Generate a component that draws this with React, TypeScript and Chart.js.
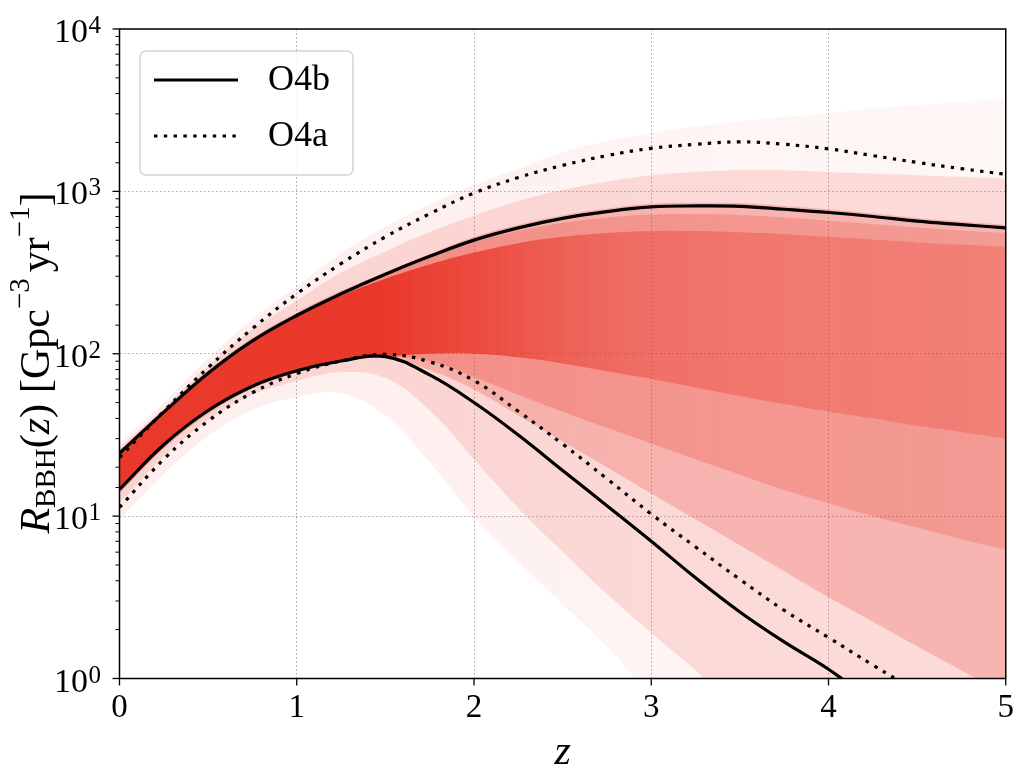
import React, { useEffect, useRef } from "react";
import { Chart, registerables } from "chart.js";

Chart.register(...registerables);

// ---------- data ----------
const zGrid = [0, 0.25, 0.5, 0.75, 1, 1.25, 1.5, 1.75, 2, 2.25, 2.5, 2.75, 3, 3.25, 3.5, 3.75, 4, 4.25, 4.5, 4.75, 5];

// 90% bounds, O4b (solid) and O4a (dotted)
const o4bUpper = [24.4, 43.7, 75.9, 120, 172, 234, 309, 398, 501, 596, 682, 750, 802, 813, 809, 776, 741, 700, 655, 624, 596];
const o4aUpper = [22.9, 44.2, 82.2, 143, 234, 359, 525, 728, 977, 1216, 1445, 1660, 1841, 1950, 2018, 1950, 1828, 1660, 1507, 1380, 1274];
const o4bLower = [14.6, 27.5, 44.7, 63.1, 78.5, 90.2, 96.0, 74.1, 50.1, 31.6, 19.1, 11.6, 7.01, 4.17, 2.57, 1.68, 1.14, 0.72];
const o4aLower = [11.3, 22.4, 38.5, 57.5, 75.5, 90.2, 99.1, 89.1, 68.4, 44.2, 27.8, 17.0, 10.3, 6.46, 4.08, 2.63, 1.79, 1.21, 0.83];

// density of the posterior draws (nested envelopes, outer -> core)
const fanOuterUpper = [28.2, 50.1, 94, 163, 260, 417, 603, 832, 1096, 1380, 1738, 2042, 2291, 2512, 2692, 2884, 3020, 3236, 3388, 3548, 3715];
const fanOuterLower = [9.55, 18.2, 31, 45, 54, 57, 41.7, 21.4, 10.0, 5.25, 2.88, 1.58, 0.79, 0.5, 0.5, 0.5, 0.5, 0.5, 0.5, 0.5, 0.5];
const fanMidUpper = [26.3, 46.5, 84, 141, 212, 316, 427, 562, 708, 871, 1023, 1148, 1259, 1318, 1349, 1349, 1318, 1288, 1259, 1230, 1202];
const fanMidLower = [12.0, 23.2, 39, 56, 68, 77, 70.8, 44.7, 22.4, 11.2, 6.03, 3.31, 1.91, 1.12, 0.63, 0.5, 0.5, 0.5, 0.5, 0.5, 0.5];
const fanInnerUpper = [25.5, 45, 79, 125, 179, 244, 318, 411, 525, 624, 714, 785, 840, 851, 847, 812, 776, 733, 686, 653, 624];
const fanInnerLower = [13.8, 26, 42.5, 61, 77, 89.1, 95.5, 79.4, 60.3, 41.7, 28.8, 20.0, 13.8, 9.55, 6.61, 4.57, 3.16, 2.24, 1.58, 1.12, 0.79];
const fanWideUpper = [25, 44.3, 77.5, 122.5, 175, 238, 312, 396, 490, 570, 640, 690, 720, 725, 715, 690, 660, 630, 600, 575, 555];
const fanWideLower = [14.3, 27, 44, 62.5, 78, 89.5, 95.5, 90, 72, 56, 44, 35, 28, 22.4, 18, 14.5, 12, 10, 8.5, 7.2, 6.2];
const fanCoreUpper = [24.4, 43.5, 75.5, 119, 170, 228, 290, 355, 420, 480, 525, 555, 570, 570, 560, 545, 525, 505, 485, 470, 455];
const fanCoreLower = [14.5, 27.5, 44.7, 63.1, 78.5, 90, 96, 100, 100, 95, 87, 78, 70, 62, 55, 49, 44, 40, 36, 33, 30];

const xTicks = [0, 1, 2, 3, 4, 5];
const yDecades = [1, 10, 100, 1000, 10000];
const seriesLabels = ["O4b", "O4a"];

// ---------- styling ----------
const RED = "232,48,34";
const SERIF = '"Liberation Serif", "Times New Roman", serif';
const GRID = "rgba(150,150,150,0.85)";
const LW = 3.2;
const DOTS = [3.4, 6.4];
const TENSION = 0.4;

const points = (vals: number[]) => vals.map((v, i) => ({ x: zGrid[i], y: v }));
const isDecade = (v: number) => Math.abs(Math.log10(v) - Math.round(Math.log10(v))) < 1e-9;

function zGradient(stops: number[][]) {
  return (c: any) => {
    const chart = c.chart;
    const xs = chart.scales && chart.scales.x;
    if (!chart.chartArea || !xs) return `rgba(${RED},${stops[0][1]})`;
    const z0 = zGrid[0];
    const z1 = zGrid[zGrid.length - 1];
    const g = chart.ctx.createLinearGradient(xs.getPixelForValue(z0), 0, xs.getPixelForValue(z1), 0);
    stops.forEach(([z, a]) => g.addColorStop((z - z0) / (z1 - z0), `rgba(${RED},${a})`));
    return g;
  };
}

function band(lower: number[], upper: number[], color: any, name: string) {
  const common = {
    pointRadius: 0,
    borderColor: "rgba(0,0,0,0)",
    borderWidth: 1,
    tension: TENSION,
  };
  return [
    { ...common, label: name + "-lo", data: points(lower), fill: false },
    { ...common, label: name + "-hi", data: points(upper), fill: "-1", backgroundColor: color },
  ];
}

const decor = {
  id: "decor",
  afterDraw(chart: any) {
    const { ctx, chartArea: a, scales } = chart;
    const x = scales.x;
    const y = scales.y;
    ctx.save();

    // frame
    ctx.strokeStyle = "#000";
    ctx.lineWidth = 1.5;
    ctx.setLineDash([]);
    ctx.strokeRect(a.left, a.top, a.right - a.left, a.bottom - a.top);

    // x tick marks
    ctx.lineWidth = 1.3;
    for (const t of xTicks) {
      const px = x.getPixelForValue(t);
      ctx.beginPath();
      ctx.moveTo(px, a.bottom);
      ctx.lineTo(px, a.bottom + 7);
      ctx.stroke();
    }
    // y tick marks (major + minor)
    for (const t of y.ticks) {
      const v = t.value;
      if (v < y.min - 1e-9 || v > y.max + 1e-9) continue;
      const major = isDecade(v);
      const py = y.getPixelForValue(v);
      ctx.lineWidth = major ? 1.3 : 1.0;
      ctx.beginPath();
      ctx.moveTo(a.left, py);
      ctx.lineTo(a.left - (major ? 7 : 4), py);
      ctx.stroke();
    }

    // y tick labels 10^n
    ctx.fillStyle = "#000";
    ctx.textBaseline = "alphabetic";
    for (const d of yDecades) {
      const py = y.getPixelForValue(d);
      const exp = String(Math.round(Math.log10(d)));
      ctx.font = `34px ${SERIF}`;
      ctx.textAlign = "right";
      ctx.fillText("10", a.left - 31.5, py + 13);
      ctx.font = `25px ${SERIF}`;
      ctx.textAlign = "left";
      ctx.fillText(exp, a.left - 31, py + 4);
    }

    // y axis label (rotated rich text)
    const segs: any[] = [
      { t: "R", s: 42, it: true, dy: 0 },
      { t: "BBH", s: 29, it: false, dy: 6 },
      { t: "(", s: 42, it: false, dy: 0 },
      { t: "z", s: 42, it: true, dy: 0 },
      { t: ")", s: 42, it: false, dy: 0 },
      { gap: 11 },
      { t: "[Gpc", s: 42, it: false, dy: 0 },
      { t: "\u22123", s: 29, it: false, dy: -20 },
      { gap: 6 },
      { t: "yr", s: 42, it: false, dy: 0 },
      { t: "\u22121", s: 29, it: false, dy: -20 },
      { t: "]", s: 42, it: false, dy: 0 },
    ];
    const fontOf = (sg: any) => `${sg.it ? "italic " : ""}${sg.s}px ${SERIF}`;
    let total = 0;
    for (const sg of segs) {
      if (sg.gap) { total += sg.gap; continue; }
      ctx.font = fontOf(sg);
      sg.w = ctx.measureText(sg.t).width;
      total += sg.w;
    }
    ctx.translate(49, 363);
    ctx.rotate(-Math.PI / 2);
    ctx.textAlign = "left";
    let cx = -total / 2;
    for (const sg of segs) {
      if (sg.gap) { cx += sg.gap; continue; }
      ctx.font = fontOf(sg);
      ctx.fillText(sg.t, cx, sg.dy);
      cx += sg.w;
    }
    ctx.restore();

    // legend
    ctx.save();
    const bx = a.left + 20.5;
    const by = a.top + 22;
    const bw = 213;
    const bh = 124;
    ctx.beginPath();
    if (ctx.roundRect) ctx.roundRect(bx, by, bw, bh, 6);
    else ctx.rect(bx, by, bw, bh);
    ctx.fillStyle = "rgba(255,255,255,0.85)";
    ctx.fill();
    ctx.strokeStyle = "#d4d4d4";
    ctx.lineWidth = 1.5;
    ctx.stroke();
    const rows = [
      { label: seriesLabels[0], dash: [] as number[], y: by + 29 },
      { label: seriesLabels[1], dash: DOTS, y: by + 85 },
    ];
    for (const r of rows) {
      ctx.strokeStyle = "#000";
      ctx.lineWidth = LW;
      ctx.setLineDash(r.dash);
      ctx.lineCap = "butt";
      ctx.beginPath();
      ctx.moveTo(bx + 14, r.y);
      ctx.lineTo(bx + 98, r.y);
      ctx.stroke();
      ctx.setLineDash([]);
      ctx.fillStyle = "#000";
      ctx.font = `36px ${SERIF}`;
      ctx.textAlign = "left";
      ctx.textBaseline = "middle";
      ctx.fillText(r.label, bx + 128, r.y + 1);
    }
    ctx.restore();
  },
};

export default function App() {
  const ref = useRef<HTMLCanvasElement | null>(null);

  useEffect(() => {
    if (!ref.current) return;
    document.body.style.margin = "0";

    const lineCommon = {
      pointRadius: 0,
      fill: false,
      borderColor: "#000",
      borderWidth: LW,
      tension: TENSION,
    };

    const datasets: any[] = [
      { ...lineCommon, label: seriesLabels[0], data: points(o4bUpper) },
      { ...lineCommon, label: seriesLabels[0] + " lower", data: points(o4bLower) },
      { ...lineCommon, label: seriesLabels[1], data: points(o4aUpper), borderDash: DOTS },
      { ...lineCommon, label: seriesLabels[1] + " lower", data: points(o4aLower), borderDash: DOTS },
      ...band(fanOuterLower, fanOuterUpper, zGradient([[0, 0.08], [2, 0.07], [3, 0.05], [5, 0.04]]), "outer"),
      ...band(fanMidLower, fanMidUpper, `rgba(${RED},0.14)`, "mid"),
      ...band(fanInnerLower, fanInnerUpper, zGradient([[0, 0.28], [2, 0.23], [5, 0.22]]), "inner"),
      ...band(fanWideLower, fanWideUpper, zGradient([[0, 0.3], [2, 0.25], [5, 0.2]]), "wide"),
      ...band(
        fanCoreLower,
        fanCoreUpper,
        zGradient([[0, 0.9], [1.5, 0.9], [2.0, 0.72], [2.5, 0.5], [3, 0.36], [4, 0.28], [5, 0.25]]),
        "core"
      ),
    ];

    const chart = new Chart(ref.current, {
      type: "line",
      data: { datasets },
      options: {
        animation: false,
        responsive: false,
        maintainAspectRatio: false,
        layout: { padding: { left: 0, top: 29, right: 12, bottom: 0 } },
        plugins: {
          legend: { display: false },
          tooltip: { enabled: false },
        },
        scales: {
          x: {
            type: "linear",
            min: 0,
            max: 5,
            afterFit: (s: any) => { s.height = 95.5; },
            ticks: {
              stepSize: 1,
              color: "#000",
              padding: 10,
              font: { family: SERIF, size: 33 },
              callback: (v: any) => String(v),
            },
            grid: { color: GRID, lineWidth: 1, drawTicks: false },
            border: { display: false, dash: [1.5, 2.5] },
            title: {
              display: true,
              text: "z",
              color: "#000",
              font: { family: SERIF, size: 42, style: "italic" },
              padding: { top: 0, bottom: -4 },
            },
          },
          y: {
            type: "logarithmic",
            min: 1,
            max: 10000,
            afterFit: (s: any) => { s.width = 119.5; },
            ticks: { display: false },
            grid: {
              color: (c: any) => (c.tick && isDecade(c.tick.value) ? GRID : "rgba(0,0,0,0)"),
              lineWidth: 1,
              drawTicks: false,
            },
            border: { display: false, dash: [1.5, 2.5] },
          },
        },
      } as any,
      plugins: [decor],
    });

    return () => chart.destroy();
  }, []);

  return (
    <div style={{ position: "absolute", left: 0, top: 0, width: 1024, height: 774, background: "#fff" }}>
      <canvas ref={ref} width={1024} height={774} style={{ width: 1024, height: 774, display: "block" }} />
    </div>
  );
}
